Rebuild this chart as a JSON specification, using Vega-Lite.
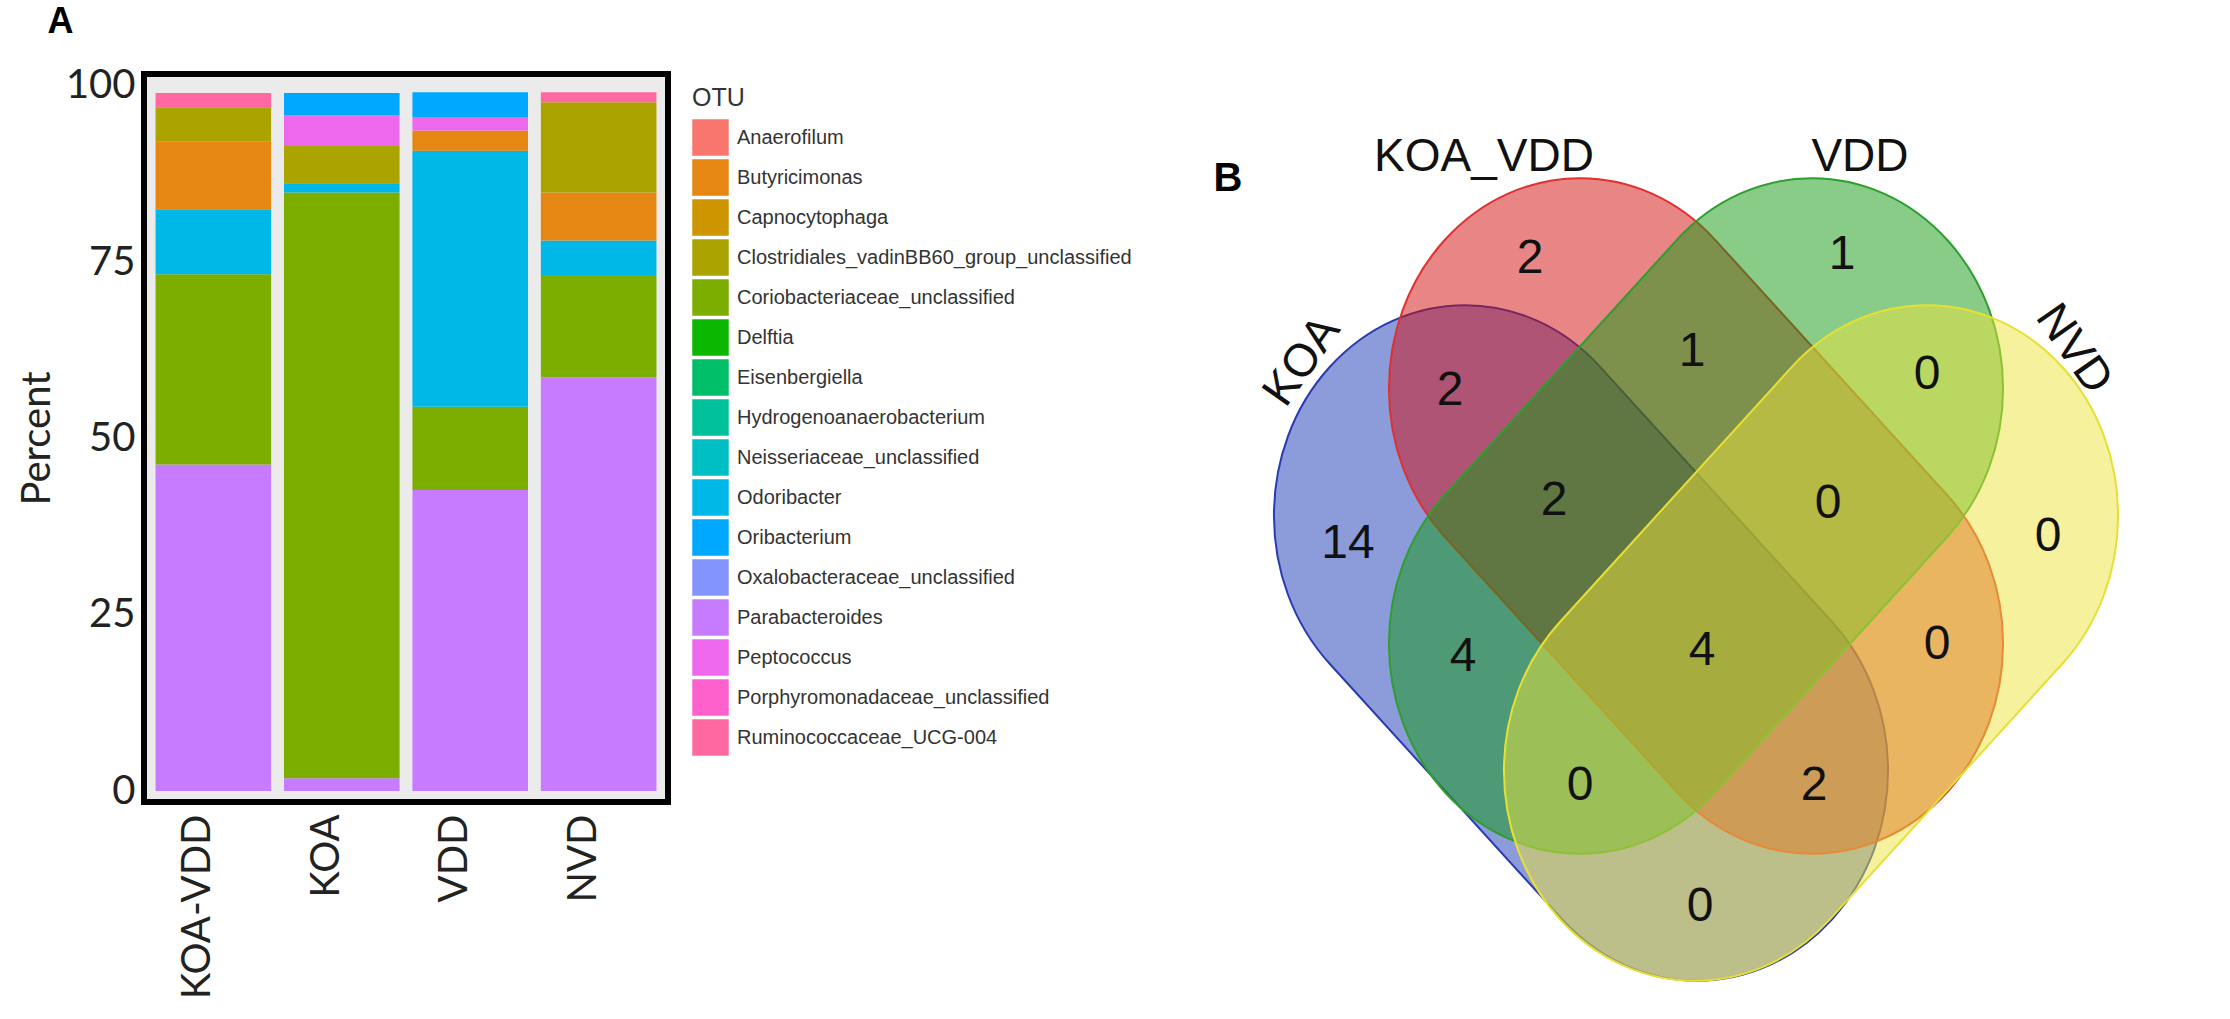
{
  "$schema": "https://vega.github.io/schema/vega-lite/v6.json",
  "padding": {"left": 14, "top": 0, "right": 0, "bottom": 0},
  "background": "white",
  "spacing": 20,
  "resolve": {"legend": {"color": "independent"}},
  "config": {"font": "Lato", "view": {"stroke": null}},
  "datasets": {
    "bars": [
      {"Group": "KOA-VDD", "OTU": "Parabacteroides", "Percent": 46.3},
      {"Group": "KOA-VDD", "OTU": "Coriobacteriaceae_unclassified", "Percent": 27.0},
      {"Group": "KOA-VDD", "OTU": "Odoribacter", "Percent": 9.2},
      {"Group": "KOA-VDD", "OTU": "Butyricimonas", "Percent": 9.6},
      {"Group": "KOA-VDD", "OTU": "Clostridiales_vadinBB60_group_unclassified", "Percent": 4.9},
      {"Group": "KOA-VDD", "OTU": "Ruminococcaceae_UCG-004", "Percent": 2.0},
      {"Group": "KOA", "OTU": "Parabacteroides", "Percent": 1.8},
      {"Group": "KOA", "OTU": "Coriobacteriaceae_unclassified", "Percent": 83.1},
      {"Group": "KOA", "OTU": "Odoribacter", "Percent": 1.3},
      {"Group": "KOA", "OTU": "Clostridiales_vadinBB60_group_unclassified", "Percent": 5.3},
      {"Group": "KOA", "OTU": "Peptococcus", "Percent": 4.3},
      {"Group": "KOA", "OTU": "Oribacterium", "Percent": 3.2},
      {"Group": "VDD", "OTU": "Parabacteroides", "Percent": 42.7},
      {"Group": "VDD", "OTU": "Coriobacteriaceae_unclassified", "Percent": 11.8},
      {"Group": "VDD", "OTU": "Odoribacter", "Percent": 36.3},
      {"Group": "VDD", "OTU": "Butyricimonas", "Percent": 2.9},
      {"Group": "VDD", "OTU": "Peptococcus", "Percent": 1.9},
      {"Group": "VDD", "OTU": "Oribacterium", "Percent": 3.5},
      {"Group": "NVD", "OTU": "Parabacteroides", "Percent": 58.7},
      {"Group": "NVD", "OTU": "Coriobacteriaceae_unclassified", "Percent": 14.5},
      {"Group": "NVD", "OTU": "Odoribacter", "Percent": 4.9},
      {"Group": "NVD", "OTU": "Butyricimonas", "Percent": 6.8},
      {"Group": "NVD", "OTU": "Clostridiales_vadinBB60_group_unclassified", "Percent": 12.8},
      {"Group": "NVD", "OTU": "Ruminococcaceae_UCG-004", "Percent": 1.4}
    ],
    "stack_order": [
      {"OTU": "Parabacteroides", "stack_rank": 1},
      {"OTU": "Coriobacteriaceae_unclassified", "stack_rank": 2},
      {"OTU": "Odoribacter", "stack_rank": 3},
      {"OTU": "Butyricimonas", "stack_rank": 4},
      {"OTU": "Clostridiales_vadinBB60_group_unclassified", "stack_rank": 5},
      {"OTU": "Peptococcus", "stack_rank": 6},
      {"OTU": "Oribacterium", "stack_rank": 7},
      {"OTU": "Ruminococcaceae_UCG-004", "stack_rank": 8}
    ],
    "sets": [
      {"set": "KOA", "orientation": "down-right", "cx": 1579, "cy": 644},
      {"set": "KOA_VDD", "orientation": "down-right", "cx": 1694, "cy": 517},
      {"set": "VDD", "orientation": "down-left", "cx": 1694, "cy": 517},
      {"set": "NVD", "orientation": "down-left", "cx": 1809, "cy": 644}
    ],
    "regions": [
      {"region": "KOA_VDD only", "count": "2", "x": 1528, "y": 260},
      {"region": "VDD only", "count": "1", "x": 1840, "y": 256},
      {"region": "KOA & KOA_VDD", "count": "2", "x": 1448, "y": 392},
      {"region": "KOA_VDD & VDD", "count": "1", "x": 1690, "y": 353},
      {"region": "VDD & NVD", "count": "0", "x": 1925, "y": 376},
      {"region": "KOA only", "count": "14", "x": 1346, "y": 545},
      {"region": "KOA & KOA_VDD & VDD", "count": "2", "x": 1552, "y": 502},
      {"region": "KOA_VDD & VDD & NVD", "count": "0", "x": 1826, "y": 505},
      {"region": "NVD only", "count": "0", "x": 2046, "y": 538},
      {"region": "KOA & VDD", "count": "4", "x": 1461, "y": 658},
      {"region": "all four", "count": "4", "x": 1700, "y": 652},
      {"region": "KOA_VDD & NVD", "count": "0", "x": 1935, "y": 646},
      {"region": "KOA & VDD & NVD", "count": "0", "x": 1578, "y": 787},
      {"region": "KOA & KOA_VDD & NVD", "count": "2", "x": 1812, "y": 787},
      {"region": "KOA & NVD", "count": "0", "x": 1698, "y": 908}
    ],
    "set_labels": [
      {"label": "KOA_VDD", "pos": "flat", "x": 1482, "y": 158},
      {"label": "VDD", "pos": "flat", "x": 1858, "y": 158},
      {"label": "KOA", "pos": "left", "x": 1300, "y": 362},
      {"label": "NVD", "pos": "right", "x": 2072, "y": 350}
    ],
    "panel_b": [{"label": "B", "x": 1226, "y": 180}]
  },
  "hconcat": [
    {
      "width": 524,
      "height": 728,
      "title": {"text": "A", "anchor": "start", "frame": "bounds", "fontSize": 36, "fontWeight": "bold", "font": "Liberation Sans", "color": "black", "dx": 30, "offset": 25},
      "view": {"fill": "#EBEBEB", "stroke": "black", "strokeWidth": 6},
      "data": {"name": "bars"},
      "transform": [
        {"lookup": "OTU", "from": {"data": {"name": "stack_order"}, "key": "OTU", "fields": ["stack_rank"]}}
      ],
      "mark": {"type": "bar"},
      "encoding": {
        "x": {
          "field": "Group", "type": "nominal",
          "sort": ["KOA-VDD", "KOA", "VDD", "NVD"],
          "scale": {"paddingInner": 0.1, "paddingOuter": 0.09},
          "axis": {"title": null, "labelAngle": 270, "labelFontSize": 40, "labelFont": "Lato", "labelColor": "#222", "ticks": false, "domain": false, "labelPadding": 12, "labelLimit": 400, "labelOffset": -15}
        },
        "y": {
          "field": "Percent", "type": "quantitative", "stack": "zero",
          "scale": {"domain": [-1.56, 101.7], "nice": false, "zero": false},
          "axis": {"title": "Percent", "titleFontSize": 40, "titleFont": "Lato", "titleFontWeight": "normal", "titleColor": "#222", "titlePadding": 8, "values": [0, 25, 50, 75, 100], "labelFontSize": 40, "labelFont": "Lato", "labelColor": "#222", "ticks": false, "domain": false, "grid": false, "labelPadding": 9}
        },
        "color": {
          "field": "OTU", "type": "nominal",
          "scale": {
            "domain": ["Anaerofilum", "Butyricimonas", "Capnocytophaga", "Clostridiales_vadinBB60_group_unclassified", "Coriobacteriaceae_unclassified", "Delftia", "Eisenbergiella", "Hydrogenoanaerobacterium", "Neisseriaceae_unclassified", "Odoribacter", "Oribacterium", "Oxalobacteraceae_unclassified", "Parabacteroides", "Peptococcus", "Porphyromonadaceae_unclassified", "Ruminococcaceae_UCG-004"],
            "range": ["#F8766D", "#E68613", "#CD9600", "#ABA300", "#7CAE00", "#0CB702", "#00BE67", "#00C19A", "#00BFC4", "#00B8E7", "#00A9FF", "#8494FF", "#C77CFF", "#ED68ED", "#FF61CC", "#FF68A1"]
          },
          "legend": {"title": "OTU", "orient": "right", "titleFont": "Liberation Sans", "titleFontSize": 25, "titleFontWeight": "normal", "titleColor": "#333", "labelFont": "Liberation Sans", "labelFontSize": 20, "labelColor": "#333", "symbolType": "square", "symbolSize": 1330, "symbolStrokeWidth": 0, "symbolOpacity": 1, "rowPadding": 3, "offset": 12, "padding": 12, "titlePadding": 8, "labelOffset": 8, "labelLimit": 600}
        },
        "order": {"field": "stack_rank", "type": "quantitative"}
      }
    },
    {
      "width": 1065,
      "height": 944,
      "layer": [
        {
          "data": {"name": "sets"},
          "mark": {"type": "point", "filled": true, "size": 4, "fillOpacity": 0.5, "strokeOpacity": 1, "strokeWidth": 2},
          "encoding": {
            "x": {"field": "cx", "type": "quantitative", "scale": {"domain": [1165, 2230], "nice": false, "zero": false}, "axis": null},
            "y": {"field": "cy", "type": "quantitative", "scale": {"domain": [75, 1019], "nice": false, "zero": false, "reverse": true}, "axis": null},
            "shape": {"field": "orientation", "type": "nominal", "scale": {"domain": ["down-right", "down-left"], "range": ["M 19.1 -276.2 L 251.1 -21 A 191 210.1 0 0 1 -19.1 276.2 L -251.1 21 A 191 210.1 0 0 1 19.1 -276.2 Z", "M -19.1 -276.2 L -251.1 -21 A 191 210.1 0 0 0 19.1 276.2 L 251.1 21 A 191 210.1 0 0 0 -19.1 -276.2 Z"]}, "legend": null},
            "fill": {"field": "set", "type": "nominal", "scale": {"domain": ["KOA", "KOA_VDD", "VDD", "NVD"], "range": ["#1A37B5", "#D10D0D", "#119911", "#EBE339"]}, "legend": null},
            "stroke": {"field": "set", "type": "nominal", "scale": {"domain": ["KOA", "KOA_VDD", "VDD", "NVD"], "range": ["#2A3BB0", "#E03030", "#2E9E2E", "#E6E034"]}, "legend": null}
          }
        },
        {
          "data": {"name": "regions"},
          "mark": {"type": "text", "font": "Liberation Sans", "fontSize": 48, "color": "#111", "align": "center", "baseline": "middle"},
          "encoding": {
            "x": {"field": "x", "type": "quantitative", "scale": {"domain": [1165, 2230], "nice": false, "zero": false}, "axis": null},
            "y": {"field": "y", "type": "quantitative", "scale": {"domain": [75, 1019], "nice": false, "zero": false, "reverse": true}, "axis": null},
            "text": {"field": "count"}
          }
        },
        {
          "data": {"name": "set_labels"},
          "transform": [{"filter": "datum.pos == 'flat'"}],
          "mark": {"type": "text", "font": "Liberation Sans", "fontSize": 46, "color": "#111", "align": "center", "baseline": "middle"},
          "encoding": {
            "x": {"field": "x", "type": "quantitative", "scale": {"domain": [1165, 2230], "nice": false, "zero": false}, "axis": null},
            "y": {"field": "y", "type": "quantitative", "scale": {"domain": [75, 1019], "nice": false, "zero": false, "reverse": true}, "axis": null},
            "text": {"field": "label"}
          }
        },
        {
          "data": {"name": "set_labels"},
          "transform": [{"filter": "datum.pos == 'left'"}],
          "mark": {"type": "text", "font": "Liberation Sans", "fontSize": 46, "color": "#111", "align": "center", "baseline": "middle", "angle": 305},
          "encoding": {
            "x": {"field": "x", "type": "quantitative", "scale": {"domain": [1165, 2230], "nice": false, "zero": false}, "axis": null},
            "y": {"field": "y", "type": "quantitative", "scale": {"domain": [75, 1019], "nice": false, "zero": false, "reverse": true}, "axis": null},
            "text": {"field": "label"}
          }
        },
        {
          "data": {"name": "set_labels"},
          "transform": [{"filter": "datum.pos == 'right'"}],
          "mark": {"type": "text", "font": "Liberation Sans", "fontSize": 46, "color": "#111", "align": "center", "baseline": "middle", "angle": 55},
          "encoding": {
            "x": {"field": "x", "type": "quantitative", "scale": {"domain": [1165, 2230], "nice": false, "zero": false}, "axis": null},
            "y": {"field": "y", "type": "quantitative", "scale": {"domain": [75, 1019], "nice": false, "zero": false, "reverse": true}, "axis": null},
            "text": {"field": "label"}
          }
        },
        {
          "data": {"name": "panel_b"},
          "mark": {"type": "text", "font": "Liberation Sans", "fontSize": 40, "fontWeight": "bold", "color": "black", "align": "center", "baseline": "middle"},
          "encoding": {
            "x": {"field": "x", "type": "quantitative", "scale": {"domain": [1165, 2230], "nice": false, "zero": false}, "axis": null},
            "y": {"field": "y", "type": "quantitative", "scale": {"domain": [75, 1019], "nice": false, "zero": false, "reverse": true}, "axis": null},
            "text": {"field": "label"}
          }
        }
      ]
    }
  ]
}
